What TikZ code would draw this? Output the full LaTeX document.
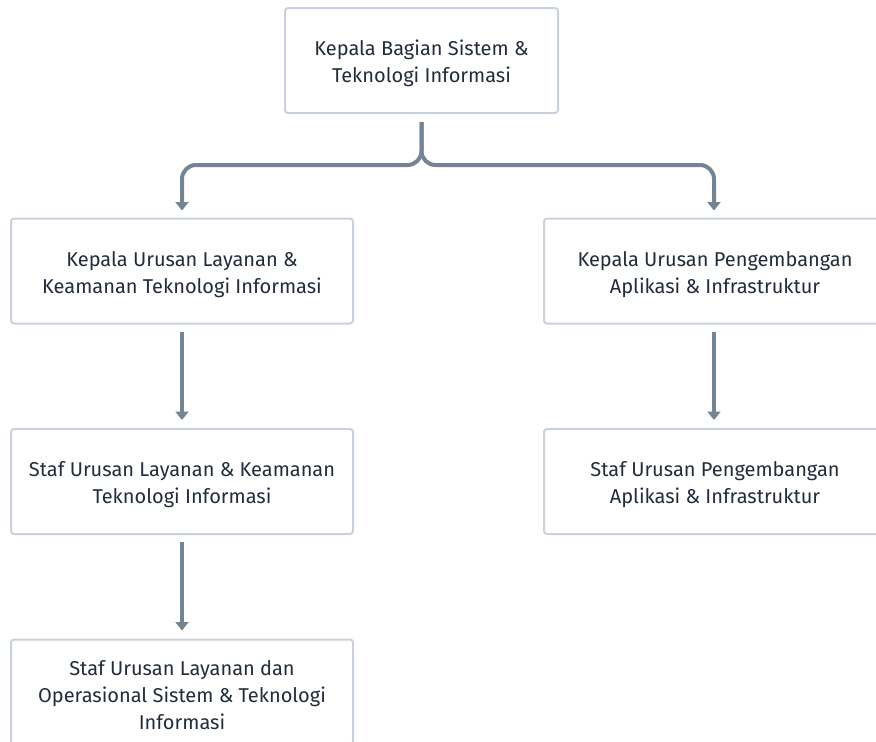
\documentclass[tikz,border=0pt]{standalone}
\usepackage{fontspec}
\setmainfont{Fira Sans}
\usetikzlibrary{arrows.meta}
\definecolor{boxline}{HTML}{C9D2DC}
\definecolor{conncol}{HTML}{758493}
\definecolor{txtcol}{HTML}{222C3A}
\newcommand{\topgap}{\rule{0pt}{22pt}}
\tikzset{
  orgbox/.style={draw=boxline, line width=2pt, rounded corners=3pt, fill=white,
    minimum width=342pt, minimum height=105pt, align=center, text=txtcol,
    font=\fontsize{20pt}{27pt}\selectfont, inner sep=0pt},
  conn/.style={draw=conncol, line width=4pt, rounded corners=14pt,
    -{Triangle[width=13pt,length=8.5pt]}}
}
\begin{document}
\begin{tikzpicture}[x=1pt,y=-1pt]
\useasboundingbox (0,0) rectangle (876,742);
\clip (0,0) rectangle (876,742);
\node[orgbox, minimum width=273pt] (top) at (421.5,60.5) {\topgap Kepala Bagian Sistem \&\\Teknologi Informasi};
\node[orgbox] (l1) at (182,271) {\topgap Kepala Urusan Layanan \&\\Keamanan Teknologi Informasi};
\node[orgbox] (r1) at (715,271) {\topgap Kepala Urusan Pengembangan\\Aplikasi \& Infrastruktur};
\node[orgbox] (l2) at (182,481.5) {\topgap Staf Urusan Layanan \& Keamanan\\Teknologi Informasi};
\node[orgbox] (r2) at (715,481.5) {\topgap Staf Urusan Pengembangan\\Aplikasi \& Infrastruktur};
\node[orgbox] (l3) at (182,692) {\topgap Staf Urusan Layanan dan\\Operasional Sistem \& Teknologi\\Informasi};
\coordinate (bus) at (421.5,165);
\draw[conn] ([yshift=-8pt]top.south) -- (bus) -| ([yshift=7pt]l1.north);
\draw[conn] ([yshift=-8pt]top.south) -- (bus) -| ([yshift=7pt,xshift=-1pt]r1.north);
\draw[conn] ([yshift=-7pt]l1.south) -- ([yshift=8pt]l2.north);
\draw[conn] ([yshift=-7pt,xshift=-1pt]r1.south) -- ([yshift=8pt,xshift=-1pt]r2.north);
\draw[conn] ([yshift=-7pt]l2.south) -- ([yshift=8pt]l3.north);
\end{tikzpicture}
\end{document}
